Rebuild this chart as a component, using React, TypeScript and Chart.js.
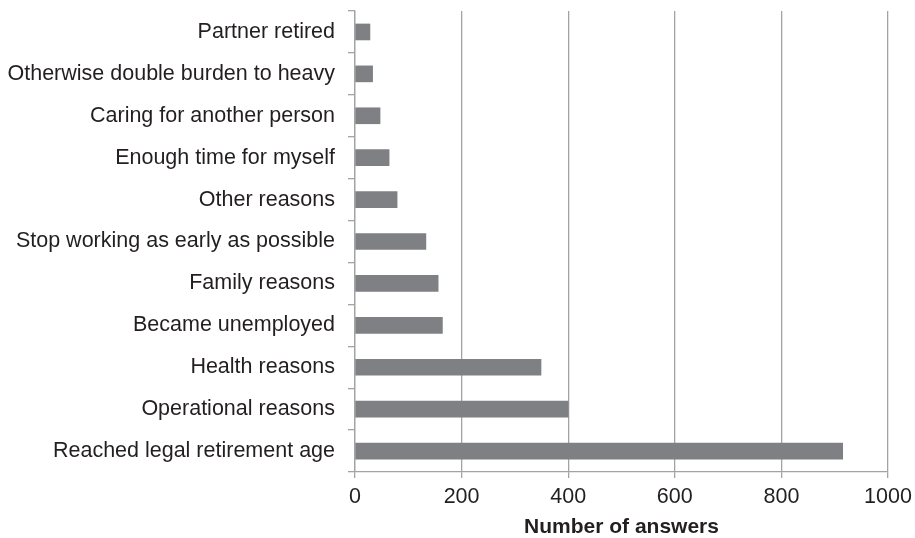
import React, { useEffect, useRef } from "react";
import { Chart, registerables } from "chart.js";

Chart.register(...registerables);

const categories = [
  "Partner retired",
  "Otherwise double burden to heavy",
  "Caring for another person",
  "Enough time for myself",
  "Other reasons",
  "Stop working as early as possible",
  "Family reasons",
  "Became unemployed",
  "Health reasons",
  "Operational reasons",
  "Reached legal retirement age",
];

const answers = [28, 33, 47, 64, 79, 133, 156, 164, 349, 400, 915];

const xTicks = [0, 200, 400, 600, 800, 1000];
const xTitle = "Number of answers";

export default function App() {
  const ref = useRef<HTMLCanvasElement | null>(null);

  useEffect(() => {
    if (!ref.current) return;
    const font = "'Liberation Sans', Arial, Helvetica, sans-serif";
    const gridColor = "#a3a3a3";
    const chart = new Chart(ref.current, {
      type: "bar",
      data: {
        labels: categories,
        datasets: [
          {
            data: answers,
            backgroundColor: "#7f8083",
            borderWidth: 0,
            barThickness: 16,
          },
        ],
      },
      options: {
        indexAxis: "y",
        animation: false,
        responsive: false,
        maintainAspectRatio: false,
        layout: { padding: { left: 0, top: 11, right: 27, bottom: 0 } },
        plugins: {
          legend: { display: false },
          tooltip: { enabled: false },
        },
        scales: {
          x: {
            type: "linear",
            min: 0,
            max: 1000,
            afterBuildTicks: (scale: any) => {
              scale.ticks = xTicks.map((v) => ({ value: v }));
            },
            afterFit: (scale: any) => {
              scale.height = 66;
              scale.paddingLeft = 0;
              scale.paddingRight = 0;
            },
            grid: {
              color: gridColor,
              lineWidth: 1.3,
              tickLength: 6,
              drawTicks: true,
            },
            border: { color: gridColor, width: 1.3 },
            ticks: {
              color: "#231f20",
              font: { family: font, size: 21.5 },
              padding: 6,
              maxRotation: 0,
              callback: (v: any) => String(v),
            },
            title: {
              display: true,
              text: xTitle,
              color: "#231f20",
              font: { family: font, size: 21, weight: "bold", lineHeight: 1.0 },
              padding: { top: 0, bottom: 0 },
            },
          },
          y: {
            type: "category",
            afterFit: (scale: any) => {
              scale.width = 355;
              scale.paddingTop = 0;
              scale.paddingBottom = 0;
            },
            grid: {
              display: true,
              drawOnChartArea: false,
              offset: true,
              color: gridColor,
              lineWidth: 1.3,
              tickLength: 7,
            },
            border: { color: gridColor, width: 1.3 },
            ticks: {
              color: "#231f20",
              font: { family: font, size: 21.5 },
              padding: 13,
              autoSkip: false,
            },
          },
        },
      },
    });
    return () => chart.destroy();
  }, []);

  return (
    <div style={{ position: "fixed", left: 0, top: 0, width: 915, height: 538, background: "#fff" }}>
      <canvas ref={ref} width={915} height={538} style={{ display: "block", width: 915, height: 538 }} />
    </div>
  );
}
